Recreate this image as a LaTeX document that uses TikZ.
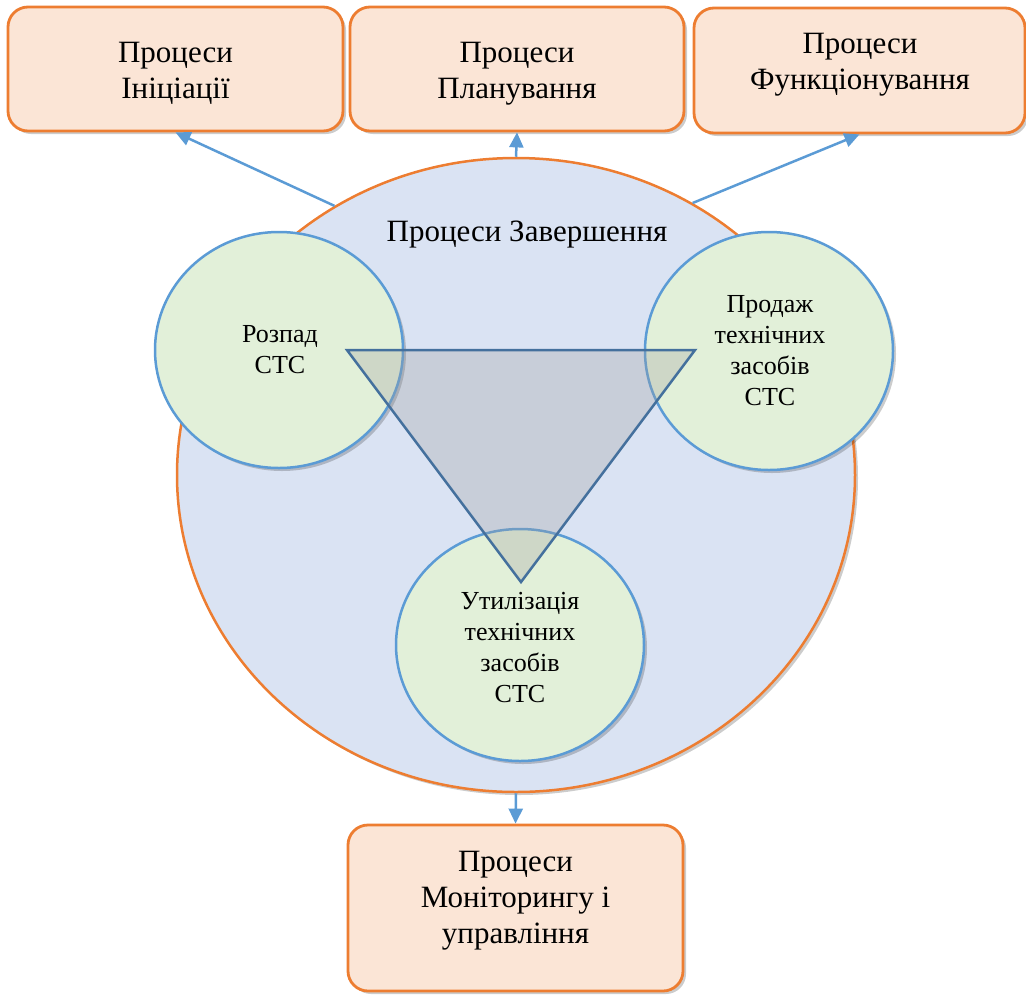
\documentclass[tikz,border=0pt]{standalone}
\usepackage{fontspec}
\setmainfont{Liberation Serif}
\usetikzlibrary{shapes.geometric,shadows,arrows.meta}
\definecolor{peach}{HTML}{FBE5D6}
\definecolor{orng}{HTML}{ED7D31}
\definecolor{bigfill}{HTML}{DAE3F3}
\definecolor{greenfill}{HTML}{E2F0D9}
\definecolor{blueline}{HTML}{5B9BD5}
\definecolor{triline}{HTML}{44709D}
\definecolor{trifill}{HTML}{A0A0A0}
\begin{document}
\begin{tikzpicture}[x=1pt,y=-1pt,
  shadowed/.style={drop shadow={shadow xshift=3pt,shadow yshift=-3pt,opacity=0.2,fill=black}},
  procbox/.style={draw=orng,fill=peach,line width=2.8pt,rounded corners=20pt,inner sep=0pt,shadowed},
  boxtext/.style={align=center,inner sep=0pt,font=\fontsize{31}{36}\selectfont},
  bigell/.style={ellipse,draw=orng,fill=bigfill,line width=2.5pt,inner sep=0pt,shadowed},
  smallell/.style={ellipse,draw=blueline,fill=greenfill,line width=2.5pt,inner sep=0pt,shadowed},
  circtext/.style={align=center,inner sep=0pt,font=\fontsize{26}{31}\selectfont},
  tri/.style={draw=triline,line width=2.5pt,fill=trifill,fill opacity=0.3,line join=miter},
  arr/.style={draw=blueline,line width=2.5pt,-{Triangle[length=15pt,width=14pt]}}]
\useasboundingbox (0,0) rectangle (1026,994);

% outer boxes
\node[procbox,minimum width=335pt,minimum height=124pt] (b1) at (175.5,69) {};
\node[procbox,minimum width=334pt,minimum height=124pt] (b2) at (517,69) {};
\node[procbox,minimum width=331pt,minimum height=125pt] (b3) at (859.5,70.5) {};
\node[procbox,minimum width=335pt,minimum height=166pt] (b4) at (515.5,908) {};
\node[boxtext] (t1) at (175.5,73) {Процеси\\Ініціації};
\node[boxtext] (t2) at (517,74) {Процеси\\Планування};
\node[boxtext] (t3) at (860,65) {Процеси\\Функціонування};
\node[boxtext] (t4) at (515.5,901) {Процеси\\Моніторингу і\\управління};

% big ellipse
\node[bigell,minimum width=678pt,minimum height=634pt] (big) at (516,475) {};
\node[inner sep=0pt,font=\fontsize{31}{36}\selectfont] (tz) at (527,235) {Процеси Завершення};

% small ellipses
\node[smallell,minimum width=248pt,minimum height=236pt] (c1) at (279,350) {};
\node[smallell,minimum width=248pt,minimum height=238pt] (c2) at (769,351) {};
\node[smallell,minimum width=248pt,minimum height=232pt] (c3) at (520,645) {};
\node[circtext] (tc1) at (280,350) {Розпад\\СТС};
\node[circtext] (tc2) at (770,351) {Продаж\\технічних\\засобів\\СТС};
\node[circtext] (tc3) at (520,648) {Утилізація\\технічних\\засобів\\СТС};

% triangle
\coordinate (p1) at (347,350);
\coordinate (p2) at (695,350);
\coordinate (p3) at (521,582);
\path[tri] (p1) -- (p2) -- (p3) -- cycle;

% arrows
\draw[arr] (big.124) -- (b1.south);
\draw[arr] (big.north) -- (b2.south);
\draw[arr] (big.57) -- (b3.south);
\draw[arr] (big.south) -- (b4.north);
\end{tikzpicture}
\end{document}
